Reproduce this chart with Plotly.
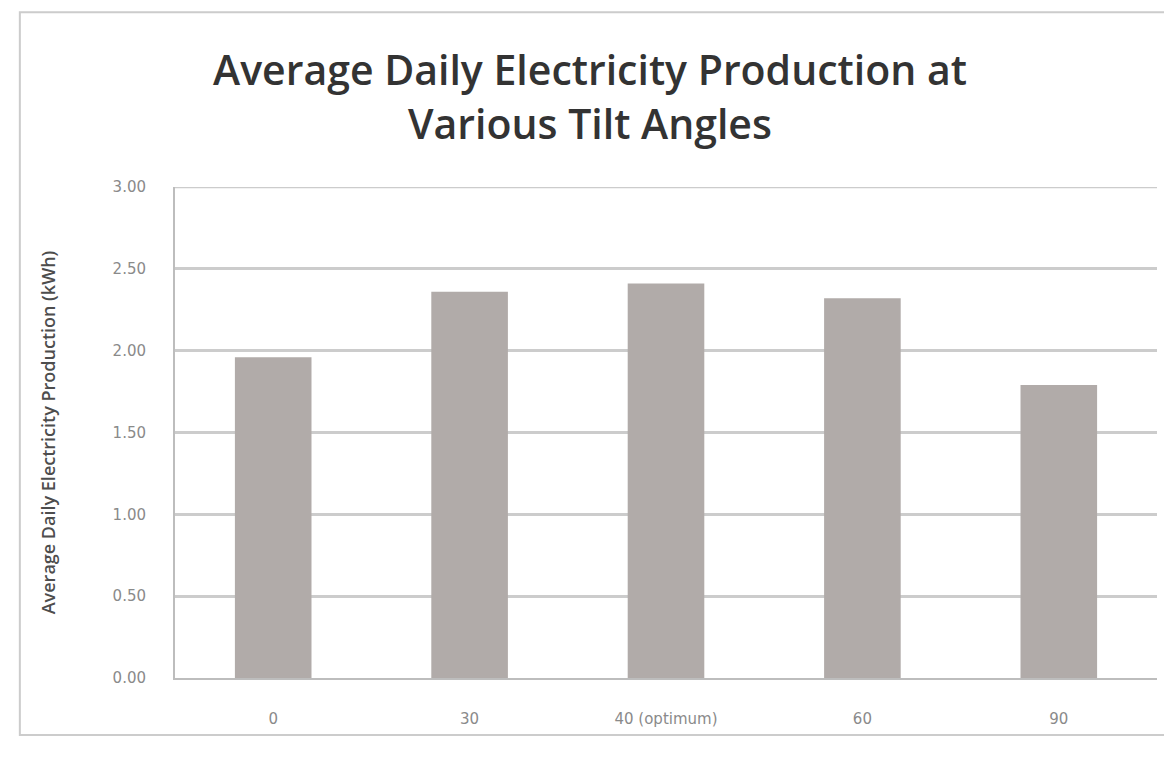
import plotly.graph_objects as go

# Tilt angle categories and average daily production (kWh)
tilt_labels = ["0", "30", "40 (optimum)", "60", "90"]
production_kwh = [1.96, 2.36, 2.41, 2.32, 1.79]
y_ticks = [0, 0.5, 1.0, 1.5, 2.0, 2.5, 3.0]
y_tick_text = ["0.00", "0.50", "1.00", "1.50", "2.00", "2.50", "3.00"]
y_max = 3.0

fig = go.Figure(
    go.Bar(
        x=tilt_labels,
        y=production_kwh,
        marker_color="#b1aba9",
        marker_line_width=0,
    )
)

# page body has an 8px margin, so the figure is a little smaller than the window
fig.update_layout(
    width=1164,
    height=752,
    paper_bgcolor="white",
    plot_bgcolor="white",
    margin=dict(l=167, r=15, t=179, b=82),
    bargap=0.61,
    showlegend=False,
    font=dict(family="Open Sans, Liberation Sans, sans-serif", color="#7f7f7f"),
    title=dict(
        text="Average Daily Electricity Production at<br>Various Tilt Angles",
        x=0.5,
        xanchor="center",
        y=0.897,
        yanchor="top",
        font=dict(size=41, color="#333333", family="Open Sans, sans-serif", weight=600),
    ),
)

fig.update_yaxes(
    range=[0, y_max],
    tickvals=y_ticks,
    ticktext=y_tick_text,
    tickfont=dict(size=15, color="#8a8a8a", family="DejaVu Sans, sans-serif"),
    ticks="",
    ticklabelstandoff=24,
    showgrid=True,
    gridcolor="#cccccc",
    gridwidth=2.5,
    showline=True,
    linecolor="#bdbdbd",
    linewidth=2,
    zeroline=False,
    title=dict(
        text="Average Daily Electricity Production (kWh)",
        font=dict(size=18, color="#4d4d4d", weight=600),
        standoff=52,
    ),
)

fig.update_xaxes(
    tickfont=dict(size=15, color="#8a8a8a", family="DejaVu Sans, sans-serif"),
    ticks="",
    ticklabelstandoff=26,
    showline=True,
    linecolor="#bdbdbd",
    linewidth=2,
    showgrid=False,
)

# top gridline at 3.00 (plotly skips the one on the range edge)
fig.add_shape(
    type="line",
    xref="paper", yref="y",
    x0=0, x1=1, y0=y_max, y1=y_max,
    line=dict(color="#cccccc", width=2.5),
)

# light frame around the whole chart
fig.add_shape(
    type="rect",
    xref="paper", yref="paper",
    x0=-0.158, x1=1.013, y0=-0.116, y1=1.356,
    line=dict(color="#cccccc", width=2),
    fillcolor="rgba(0,0,0,0)",
    layer="below",
)

fig.write_html("out.html")
